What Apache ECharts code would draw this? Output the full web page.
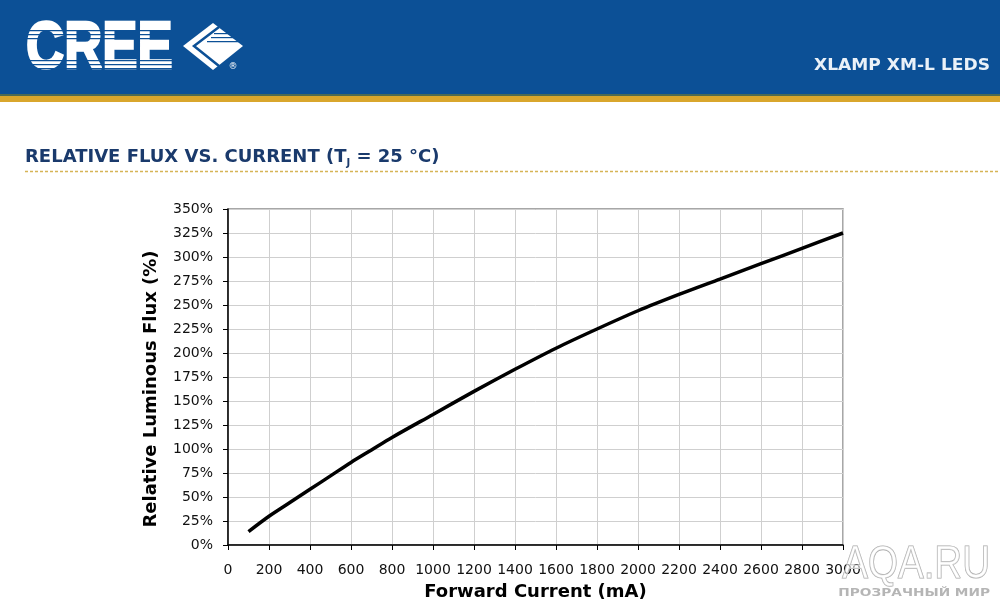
<!DOCTYPE html>
<html>
<head>
<meta charset="utf-8">
<script src="https://cdn.jsdelivr.net/npm/echarts@6/dist/echarts.min.js"></script>
<style>
html,body{margin:0;padding:0;background:#fff;}
#c{width:1000px;height:606px;}
</style>
</head>
<body>
<div id="c"></div>
<script>
// Data
const currentMA = [100, 200, 300, 400, 500, 600, 700, 800, 1000, 1200, 1400, 1600, 1800, 2000, 2200, 2400, 2600, 2800, 3000];
const relFlux   = [14, 30, 44, 58, 72, 86, 99, 112, 136, 160, 183, 205, 225, 244, 261, 277, 293, 309, 325];
const xTicks = { min: 0, max: 3000, step: 200 };
const yTicks = { min: 0, max: 350, step: 25 };

const chart = echarts.init(document.getElementById('c'), null, { renderer: 'canvas' });
const FONT = '"DejaVu Sans", Verdana, sans-serif';
const BLUE = '#0c5096';

const stripeYs = [30, 34, 38, 60, 64, 68];
const stripes = stripeYs.map(y => ({
  type: 'rect', z: 12,
  shape: { x: 22, y: y, width: 160, height: 1.3 },
  style: { fill: BLUE }
}));

chart.setOption({
  backgroundColor: '#fff',
  animation: false,
  grid: { left: 228, right: 157, top: 209, bottom: 60, show: true, borderColor: '#8a8a8a', borderWidth: 1.5, backgroundColor: '#fff' },
  xAxis: {
    type: 'value', min: xTicks.min, max: xTicks.max, interval: xTicks.step,
    name: 'Forward Current (mA)', nameLocation: 'middle', nameGap: 38,
    nameTextStyle: { fontFamily: FONT, fontWeight: 'bold', fontSize: 18, color: '#000' },
    axisLine: { show: true, lineStyle: { color: '#000', width: 1.5 } },
    axisTick: { show: true, inside: false, length: 5, lineStyle: { color: '#000' } },
    axisLabel: { fontFamily: FONT, fontSize: 14, color: '#111', margin: 18, formatter: v => String(v) },
    splitLine: { show: true, lineStyle: { color: '#cfcfcf', width: 1 } }
  },
  yAxis: {
    type: 'value', min: yTicks.min, max: yTicks.max, interval: yTicks.step,
    name: 'Relative Luminous Flux (%)', nameLocation: 'middle', nameGap: 68,
    nameTextStyle: { fontFamily: FONT, fontWeight: 'bold', fontSize: 18, color: '#000', padding: [0, 24, 0, 0] },
    axisLine: { show: true, lineStyle: { color: '#000', width: 1.5 } },
    axisTick: { show: true, inside: false, length: 5, lineStyle: { color: '#000' } },
    axisLabel: { fontFamily: FONT, fontSize: 14, color: '#111', margin: 15, formatter: '{value}%' },
    splitLine: { show: true, lineStyle: { color: '#cfcfcf', width: 1 } }
  },
  series: [{
    type: 'line',
    data: currentMA.map((x, i) => [x, relFlux[i]]),
    smooth: 0.3,
    showSymbol: false,
    lineStyle: { color: '#000', width: 3.5 },
    z: 5
  }],
  graphic: [
    { type: 'rect', z: 10, shape: { x: 0, y: 0, width: 1000, height: 95 }, style: { fill: BLUE } },
    { type: 'rect', z: 10, shape: { x: 0, y: 94, width: 1000, height: 2 }, style: { fill: '#4d6b52' } },
    { type: 'rect', z: 10, shape: { x: 0, y: 96, width: 1000, height: 6 }, style: { fill: '#d9a62c' } },
    { type: 'text', z: 11, x: 26, y: 49, scaleX: 0.8, scaleY: 1.02,
      style: { text: 'CREE', fill: '#fff', stroke: '#fff', lineWidth: 2.5, font: 'bold 66px "Liberation Sans", Arial, sans-serif', textVerticalAlign: 'middle', textAlign: 'left' } },
    ...stripes,
    { type: 'polygon', z: 11, shape: { points: [[183, 46], [213, 23], [243, 46], [213, 70]] }, style: { fill: '#fff' } },
    { type: 'polyline', z: 12, shape: { points: [[219, 27], [194, 46], [219, 66]] }, style: { stroke: BLUE, lineWidth: 2.5, fill: null } },
    { type: 'rect', z: 12, shape: { x: 214, y: 33, width: 26, height: 1.2 }, style: { fill: BLUE } },
    { type: 'rect', z: 12, shape: { x: 211, y: 37, width: 32, height: 1.2 }, style: { fill: BLUE } },
    { type: 'rect', z: 12, shape: { x: 207, y: 41, width: 36, height: 1.2 }, style: { fill: BLUE } },
    { type: 'text', z: 12, x: 233, y: 67, style: { text: '®', fill: '#fff', font: '9px "DejaVu Sans", sans-serif', textVerticalAlign: 'middle', textAlign: 'center' } },
    { type: 'text', z: 11, x: 990, y: 66, scaleX: 1.14,
      style: { text: 'XLAMP XM-L LEDS', fill: '#eaf1f8', font: 'bold 15px "DejaVu Sans", Verdana, sans-serif', textAlign: 'right', textVerticalAlign: 'middle' } },
    { type: 'text', z: 11, x: 25, y: 157,
      style: {
        text: '{t|RELATIVE FLUX VS. CURRENT (T}{s|J}{t| = 25 °C)}',
        textVerticalAlign: 'middle', textAlign: 'left',
        rich: {
          t: { font: 'bold 18px "DejaVu Sans", Verdana, sans-serif', fill: '#1a3a6c' },
          s: { font: 'bold 10px "DejaVu Sans", Verdana, sans-serif', fill: '#1a3a6c', padding: [12, 0, 0, 0] }
        }
      } },
    { type: 'line', z: 11, shape: { x1: 25, y1: 171.5, x2: 1000, y2: 171.5 }, style: { stroke: '#d6b456', lineWidth: 1.3, lineDash: [3, 2] } },
    { type: 'text', z: 20, x: 990, y: 565, scaleX: 0.82,
      style: { text: 'AQA.RU', fill: 'rgba(255,255,255,0.55)', stroke: '#a8a8a8', lineWidth: 1.2, font: '47px "Liberation Sans", Arial, sans-serif', textAlign: 'right', textVerticalAlign: 'middle' } },
    { type: 'text', z: 20, x: 990, y: 593, scaleX: 1.37,
      style: { text: 'ПРОЗРАЧНЫЙ МИР', fill: '#b5b5b5', font: 'bold 10px "DejaVu Sans", sans-serif', textAlign: 'right', textVerticalAlign: 'middle' } }
  ]
});
</script>
</body>
</html>
